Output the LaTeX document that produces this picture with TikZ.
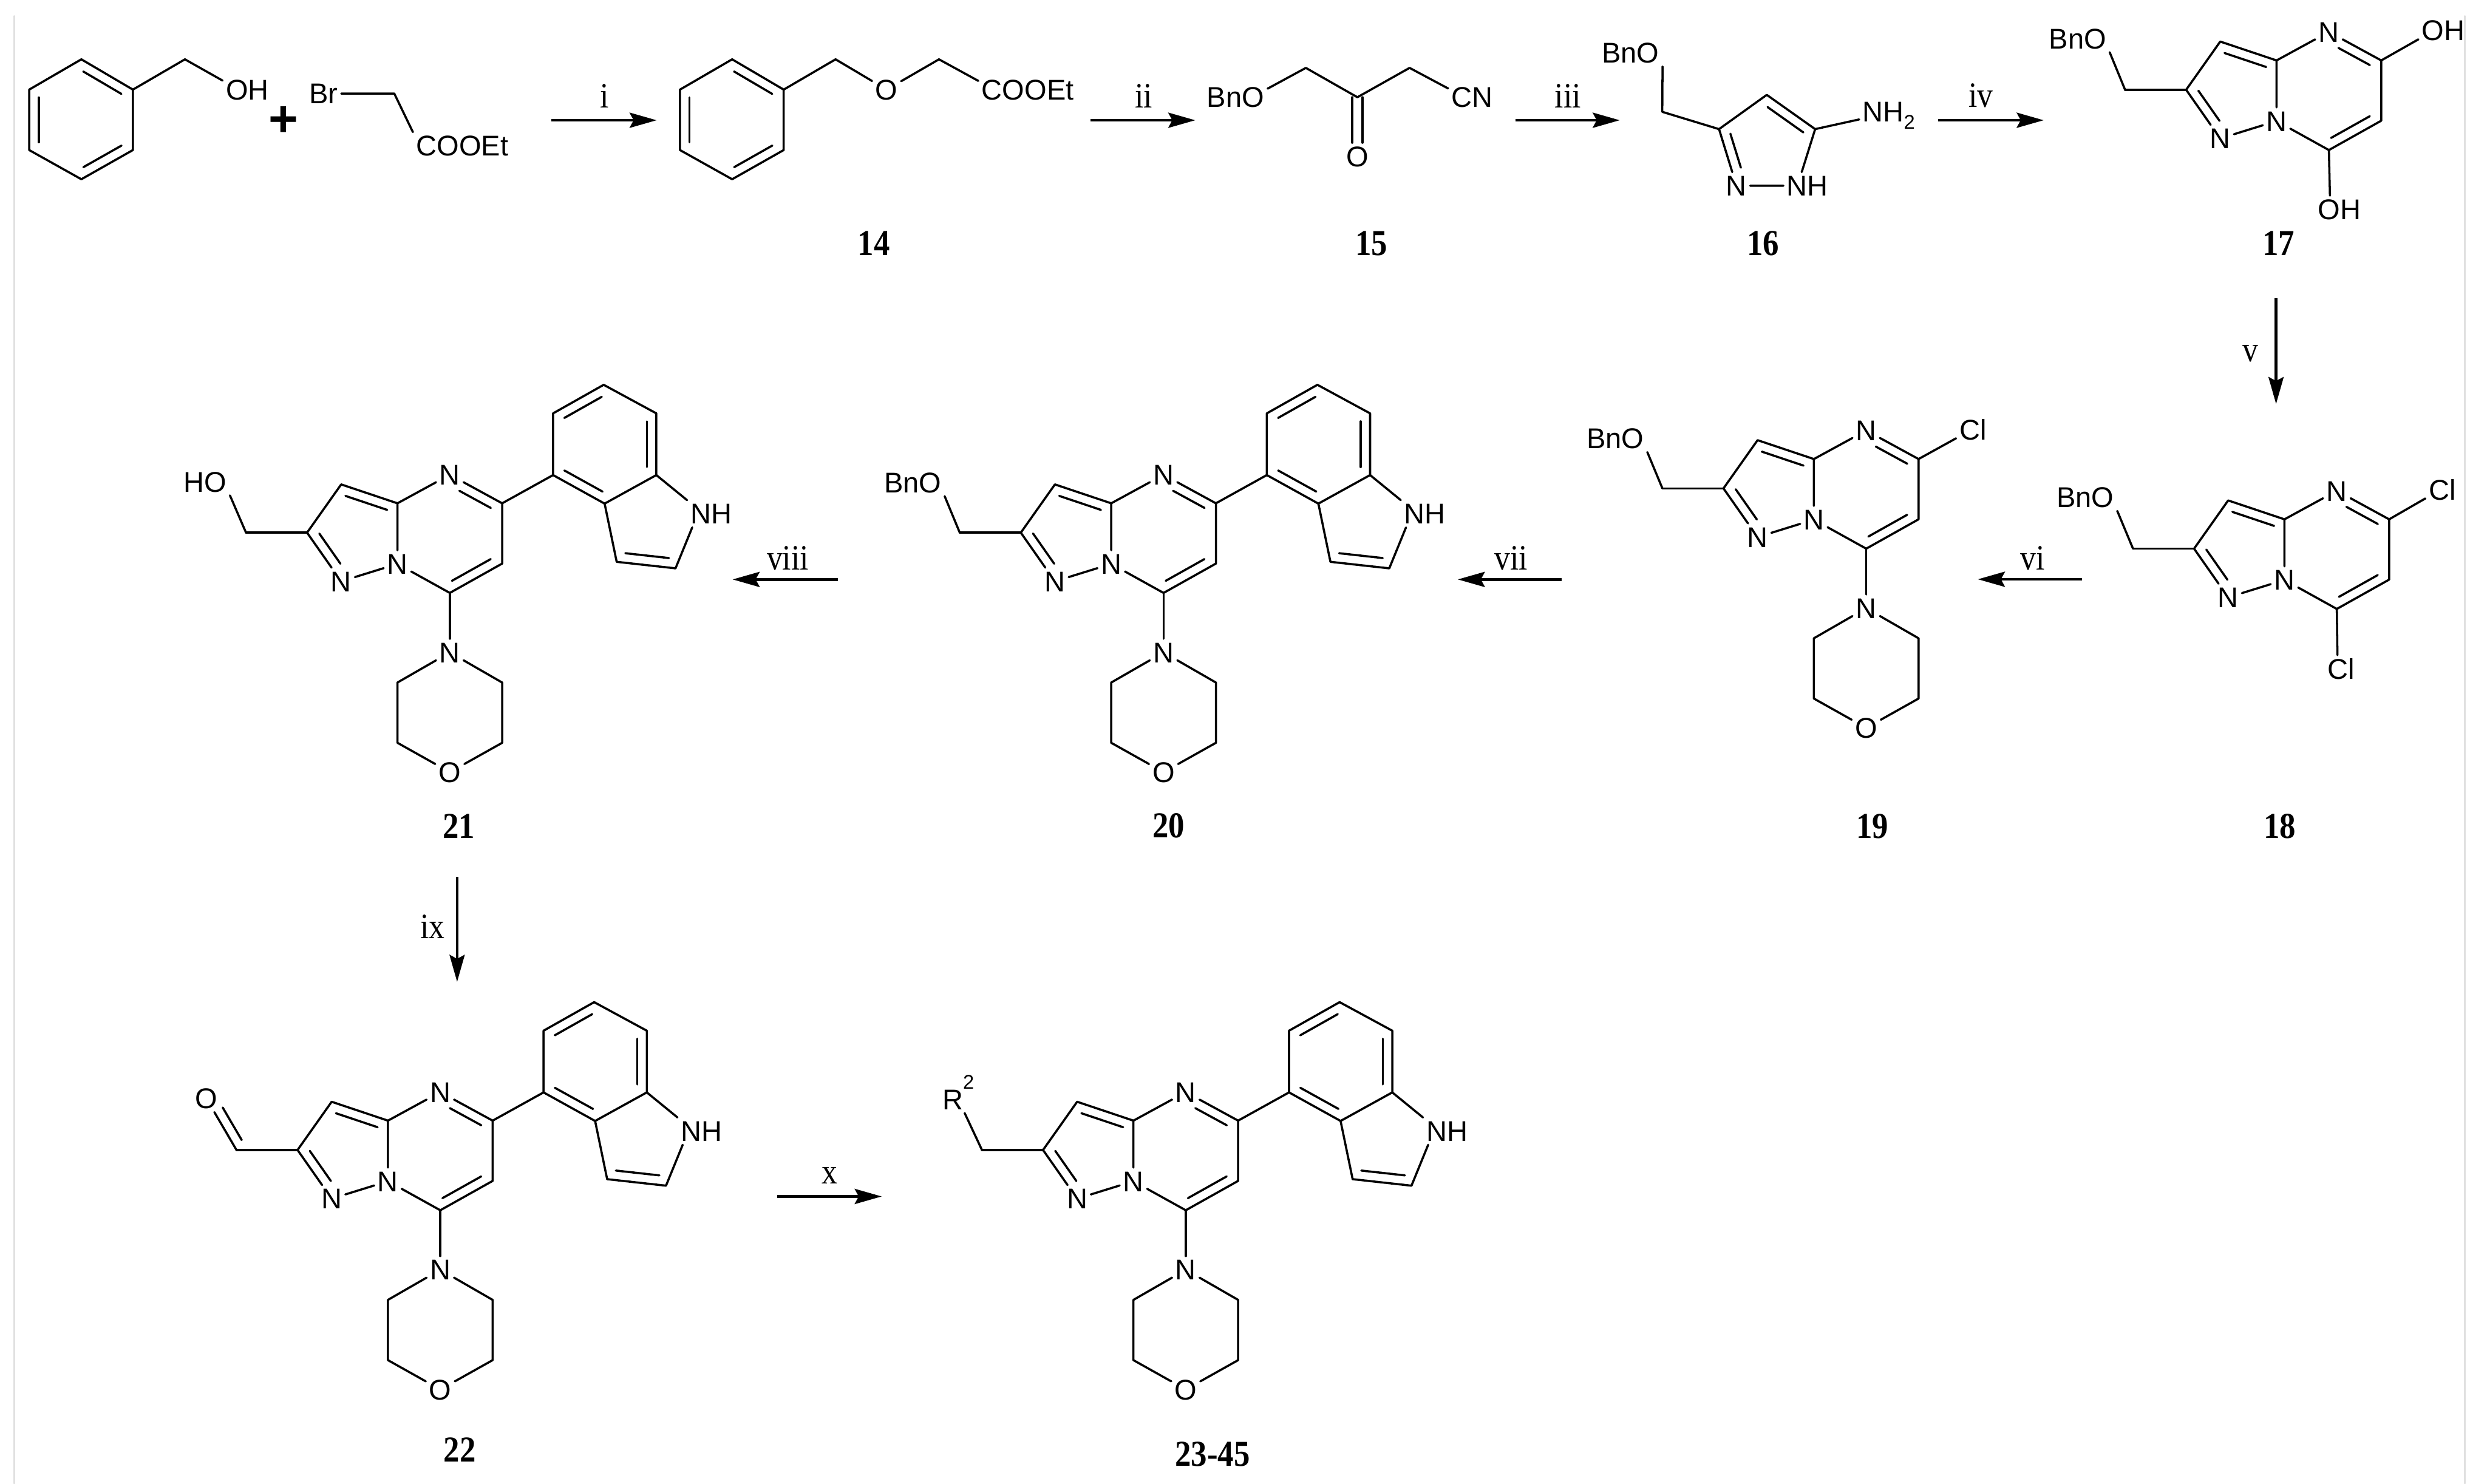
\documentclass[tikz,border=0pt]{standalone}
\usepackage{fontspec}
\setmainfont{Liberation Serif}
\setsansfont{Liberation Sans}
\newfontfamily\labelserif[FakeStretch=.88]{Liberation Serif}
\usetikzlibrary{arrows.meta,calc}
\tikzset{
    atom/.style={font=\sffamily\fontsize{18}{20}\selectfont,inner sep=1.5pt,text height=12.9pt,text depth=0pt},
    steplabel/.style={font=\labelserif\fontsize{22.5}{24}\selectfont,inner sep=0pt},
    cmpd/.style={font=\labelserif\bfseries\fontsize{23}{25}\selectfont,inner sep=0pt},
    rxn/.style={-{Stealth[length=17pt,width=9.5pt,inset=2.5pt]},line width=1.8pt,line cap=butt},
    frameline/.style={line width=0.8pt,color=black!12}
}

\begin{document}
\begin{tikzpicture}[x=1pt,y=-1pt,line width=1.35pt,line cap=round,line join=round]
    \useasboundingbox (0,0) rectangle (1568,935.3);
    \def\smalltwo{\fontsize{12.5}{14}\selectfont 2}
    \def\dbl#1#2#3#4{\draw ($(#1)!#3!(#2)!6pt!90:(#2)$) -- ($(#2)!#4!(#1)!6pt!-90:(#1)$);}
    \def\benzring#1#2#3{
        \begin{scope}[shift={(#2,#3)}]
        \coordinate (#1top) at (0,0);
        \coordinate (#1ur) at (32.5,19.1);
        \coordinate (#1lr) at (32.5,57.2);
        \coordinate (#1bot) at (0,75.6);
        \coordinate (#1ll) at (-32.9,57.2);
        \coordinate (#1ul) at (-32.9,19.1);
        \draw (#1top) -- (#1ur) -- (#1lr) -- (#1bot) -- (#1ll) -- (#1ul) -- cycle;
        \dbl{#1ur}{#1top}{.13}{.13}
        \dbl{#1bot}{#1lr}{.13}{.13}
        \dbl{#1ul}{#1ll}{.13}{.13}
        \end{scope}
    }
    \def\pyrcore#1#2#3{
        \begin{scope}[shift={(#2,#3)}]
        \coordinate (#1c7) at (0,0);
        \coordinate (#1c6) at (33,-18.5);
        \coordinate (#1c5) at (33,-56.5);
        \node[atom] (#1n4) at (0,-74.5) {N};
        \coordinate (#1c3a) at (-33,-56.5);
        \node[atom] (#1n8) at (-33,-18.3) {N};
        \node[atom] (#1n1) at (-68.5,-7.3) {N};
        \coordinate (#1c2) at (-90,-38);
        \coordinate (#1c3) at (-68.5,-68.4);
        \coordinate (#1ch) at (-128.5,-38);
        \draw (#1c7) -- (#1c6) -- (#1c5) -- (#1n4) -- (#1c3a) -- (#1n8) -- (#1c7);
        \draw (#1c3a) -- (#1c3) -- (#1c2) -- (#1n1) -- (#1n8);
        \draw (#1c2) -- (#1ch);
        \dbl{#1c7}{#1c6}{.13}{.13}
        \dbl{#1c5}{#1n4}{.13}{.27}
        \dbl{#1c3a}{#1c3}{.13}{.13}
        \dbl{#1c2}{#1n1}{.13}{.25}
        \end{scope}
    }
    \def\morph#1#2#3{
        \begin{scope}[shift={(#2,#3)}]
        \node[atom] (#1mn) at (0,37.5) {N};
        \coordinate (#1mul) at (-33,56.5);
        \coordinate (#1mll) at (-33,94.5);
        \node[atom] (#1mo) at (0,113) {O};
        \coordinate (#1mlr) at (33,94.5);
        \coordinate (#1mur) at (33,56.5);
        \draw (#1c7) -- (#1mn);
        \draw (#1mn) -- (#1mul) -- (#1mll) -- (#1mo) -- (#1mlr) -- (#1mur) -- (#1mn);
        \end{scope}
    }
    \def\indole#1#2#3{
        \begin{scope}[shift={(#2,#3)}]
        \coordinate (#1i4) at (65.1,-74.3);
        \coordinate (#1i5) at (65.1,-113.2);
        \coordinate (#1i6) at (97,-131.2);
        \coordinate (#1i7) at (130.2,-113.2);
        \coordinate (#1i7a) at (130.2,-74.3);
        \coordinate (#1i3a) at (97.6,-56.3);
        \coordinate (#1i3) at (105.2,-19.6);
        \coordinate (#1i2) at (142.3,-15.5);
        \node[atom] (#1nh) at (164.7,-49.9) {NH};
        \draw (#1c5) -- (#1i4);
        \draw (#1i4) -- (#1i5) -- (#1i6) -- (#1i7) -- (#1i7a) -- (#1i3a) -- cycle;
        \draw (#1i3a) -- (#1i3) -- (#1i2) -- (#1nh.216);
        \draw (#1i7a) -- (#1nh.north west);
        \dbl{#1i4}{#1i3a}{.13}{.13}
        \dbl{#1i6}{#1i5}{.13}{.13}
        \dbl{#1i7a}{#1i7}{.13}{.13}
        \dbl{#1i3}{#1i2}{.13}{.13}
        \end{scope}
    }

    \coordinate (frameal) at (9,10);
    \coordinate (framebl) at (9,935.3);
    \coordinate (framear) at (1554,10);
    \coordinate (framebr) at (1554,935.3);
    \draw[frameline] (frameal) -- (framebl);
    \draw[frameline] (framear) -- (framebr);

    \benzring{ba}{51.3}{37.4}
    \coordinate (bach) at (116.6,37.4);
    \node[atom] (baoh) at (156,56.5) {OH};
    \draw (baur) -- (bach) -- (baoh.160);
    \node[font=\sffamily\bfseries\fontsize{32}{34}\selectfont,inner sep=0pt] (plus) at (178.6,76.6) {+};
    \node[atom] (brbr) at (204,59) {Br};
    \coordinate (brch) at (248.6,59);
    \node[atom] (brco) at (291.5,91.9) {COOEt};
    \draw (brbr) -- (brch) -- (brco.north west);

    \benzring{ea}{461.6}{37.4}
    \coordinate (each) at (526.8,37.4);
    \node[atom] (eao) at (559,56.5) {O};
    \coordinate (eacb) at (592,37.4);
    \node[atom] (eaco) at (648,56.5) {COOEt};
    \draw (eaur) -- (each) -- (eao) -- (eacb) -- (eaco.170);
    \node[cmpd] (c14) at (551,153.5) {14};

    \node[atom] (kbno) at (779,61.3) {BnO};
    \coordinate (kcha) at (823.3,42.8);
    \coordinate (kco) at (855.8,61.3);
    \coordinate (kchb) at (888.7,42.8);
    \node[atom] (kcn) at (928.2,61.3) {CN};
    \node[atom] (kox) at (855.8,98.6) {O};
    \draw (kbno.15) -- (kcha) -- (kco) -- (kchb) -- (kcn.160);
    \draw ([xshift=-3.2pt]kco) -- ([xshift=-3.2pt]kox.north);
    \draw ([xshift=3.2pt]kco) -- ([xshift=3.2pt]kox.north);
    \node[cmpd] (c15) at (864.7,153.5) {15};

    \node[atom] (pbno) at (1028,33.3) {BnO};
    \coordinate (pch) at (1048,70.5);
    \coordinate (pcc) at (1083.8,81.4);
    \coordinate (pcd) at (1113.9,59.8);
    \coordinate (pce) at (1144.4,81.4);
    \node[atom] (pn) at (1094.8,117.1) {N};
    \node[atom] (pnh) at (1139.6,117.1) {NH};
    \node[atom] (pnt) at (1190.8,70.3) {NH\raisebox{-4.6pt}{\smalltwo}};
    \draw (pbno.south east) -- (pch) -- (pcc) -- (pcd) -- (pce) -- (pnh.113);
    \draw (pcc) -- (pn) -- (pnh.west);
    \draw (pce) -- (pnt.195);
    \dbl{pce}{pcd}{.13}{.13}
    \dbl{pcc}{pn}{.13}{.27}
    \node[cmpd] (c16) at (1111.6,153.5) {16};

    \pyrcore{a}{1468.3}{94.6}
    \node[atom] (abno) at (1309.9,24.3) {BnO};
    \node[atom] (aoha) at (1540.4,19.1) {OH};
    \node[atom] (aohb) at (1475,132) {OH};
    \draw (ach) -- (abno.south east);
    \draw (ac5) -- (aoha.200);
    \draw (ac7) -- (aohb.125);
    \node[cmpd] (c17) at (1436.5,153.5) {17};

    \pyrcore{b}{1473.3}{383.9}
    \node[atom] (bbno) at (1314.7,313.5) {BnO};
    \node[atom] (bcla) at (1539.8,308.8) {Cl};
    \node[atom] (bclb) at (1476,421.6) {Cl};
    \draw (bch) -- (bbno.south east);
    \draw (bc5) -- (bcla.207);
    \draw (bc7) -- (bclb.105);
    \node[cmpd] (c18) at (1437.3,521) {18};

    \pyrcore{c}{1176.6}{345.9}
    \morph{c}{1176.6}{345.9}
    \node[atom] (cbno) at (1018.4,276.4) {BnO};
    \node[atom] (ccl) at (1243.9,270.9) {Cl};
    \draw (cch) -- (cbno.south east);
    \draw (cc5) -- (ccl.207);
    \node[cmpd] (c19) at (1180.5,521) {19};

    \pyrcore{d}{733.6}{373.8}
    \morph{d}{733.6}{373.8}
    \indole{d}{733.6}{373.8}
    \node[atom] (dbno) at (575.4,304.2) {BnO};
    \draw (dch) -- (dbno.south east);
    \node[cmpd] (c20) at (736.8,520.6) {20};

    \pyrcore{e}{283.6}{373.8}
    \morph{e}{283.6}{373.8}
    \indole{e}{283.6}{373.8}
    \node[atom] (eho) at (129.3,303.7) {HO};
    \draw (ech) -- (eho.south east);
    \node[cmpd] (c21) at (289.2,521) {21};

    \pyrcore{f}{277.6}{763}
    \morph{f}{277.6}{763}
    \indole{f}{277.6}{763}
    \node[atom] (fo) at (130.1,692.5) {O};
    \draw (fch) -- (fo);
    \dbl{fo}{fch}{.27}{.1}
    \node[cmpd] (c22) at (289.8,913.8) {22};

    \pyrcore{g}{747.6}{763}
    \morph{g}{747.6}{763}
    \indole{g}{747.6}{763}
    \node[atom,anchor=west] (grtwo) at (592,693.1) {R\raisebox{13pt}{\smalltwo}};
    \draw (gch) -- (grtwo);
    \node[cmpd] (c23) at (764.4,916.8) {23-45};

    \coordinate (si) at (347.7,75.8);
    \coordinate (ei) at (414,75.8);
    \draw[rxn] (si) -- (ei);
    \node[steplabel] (li) at (381,60.4) {i};
    \coordinate (sii) at (687.5,75.8);
    \coordinate (eii) at (753.6,75.8);
    \draw[rxn] (sii) -- (eii);
    \node[steplabel] (lii) at (721,60.4) {ii};
    \coordinate (siii) at (955.3,75.8);
    \coordinate (eiii) at (1021.2,75.8);
    \draw[rxn] (siii) -- (eiii);
    \node[steplabel] (liii) at (988.6,60.4) {iii};
    \coordinate (siv) at (1222.1,75.8);
    \coordinate (eiv) at (1288.5,75.8);
    \draw[rxn] (siv) -- (eiv);
    \node[steplabel] (liv) at (1248.9,60.4) {iv};
    \coordinate (sv) at (1435,188);
    \coordinate (ev) at (1435,254.7);
    \draw[rxn] (sv) -- (ev);
    \node[steplabel] (lv) at (1419,223) {v};
    \coordinate (svi) at (1312.8,365.2);
    \coordinate (evi) at (1247,365.2);
    \draw[rxn] (svi) -- (evi);
    \node[steplabel] (lvi) at (1281.4,352) {vi};
    \coordinate (svii) at (984.6,365.3);
    \coordinate (evii) at (919.1,365.3);
    \draw[rxn] (svii) -- (evii);
    \node[steplabel] (lvii) at (952.7,352) {vii};
    \coordinate (sviii) at (528.4,365.3);
    \coordinate (eviii) at (461.9,365.3);
    \draw[rxn] (sviii) -- (eviii);
    \node[steplabel] (lviii) at (496.7,352) {viii};
    \coordinate (six) at (288.2,552.9);
    \coordinate (eix) at (288.2,619);
    \draw[rxn] (six) -- (eix);
    \node[steplabel] (lix) at (272.7,584) {ix};
    \coordinate (sx) at (490,754.3);
    \coordinate (ex) at (555.9,754.3);
    \draw[rxn] (sx) -- (ex);
    \node[steplabel] (lx) at (523.1,741) {x};
\end{tikzpicture}
\end{document}
